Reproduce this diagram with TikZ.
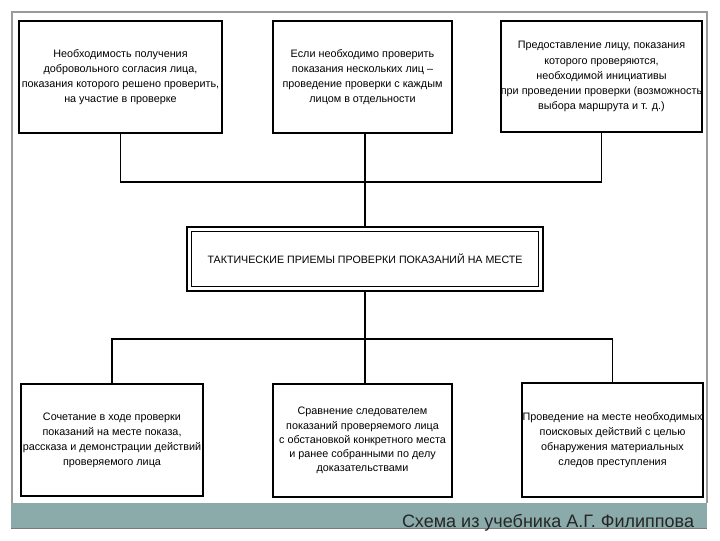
\documentclass[tikz,border=0pt]{standalone}
\usepackage{fontspec}
\setmainfont{Liberation Sans}
\definecolor{band}{HTML}{8AABAA}
\definecolor{frame}{HTML}{9A9A9A}
\begin{document}
\begin{tikzpicture}[x=0.75pt,y=-0.75pt,
  box/.style={draw, line width=1.1pt, align=center, inner sep=0pt,
    font=\fontsize{8.1}{11.3}\selectfont},
  conn/.style={line width=1.1pt}]
\useasboundingbox (0,0) rectangle (720,540);
\fill[white] (0,0) rectangle (720,540);
% frame and band
\draw[frame, line width=0.8pt] (12,503) -- (12,12) -- (707,12) -- (707,503);
\fill[band] (11,503) rectangle (707,528);
\draw[frame!80!black, line width=0.6pt] (11,528) -- (707,528);
\node[font=\fontsize{13.5}{15}\selectfont, text=black!85, anchor=center] (cap) at (548,523) {Схема из учебника А.Г. Филиппова};
% top boxes
\node[box, minimum width=152.25pt, minimum height=84pt] (tl) at (120.5,77)
 {Необходимость получения\\добровольного согласия лица,\\показания которого решено проверить,\\на участие в проверке};
\node[box, minimum width=134.25pt, minimum height=84pt] (tm) at (362.5,77)
 {Если необходимо проверить\\показания нескольких лиц --\\проведение проверки с каждым\\лицом в отдельности};
\node[box, minimum width=150.75pt, minimum height=83.25pt] (tr) at (601.5,76.5)
 {Предоставление лицу, показания\\которого проверяются,\\необходимой инициативы\\при проведении проверки (возможность\\выбора маршрута и т. д.)};
% central box
\node[draw, line width=1.6pt, minimum width=267pt, minimum height=48pt, inner sep=0pt,
  font=\fontsize{8.0}{10}\selectfont] (main) at (365,259)
 {ТАКТИЧЕСКИЕ ПРИЕМЫ ПРОВЕРКИ ПОКАЗАНИЙ НА МЕСТЕ};
\draw[line width=0.7pt] ([shift={(4.5pt,-4.5pt)}]main.north west) rectangle ([shift={(-4.5pt,4.5pt)}]main.south east);
% bottom boxes
\node[box, minimum width=136.5pt, minimum height=84pt] (bl) at (112,440)
 {Сочетание в ходе проверки\\показаний на месте показа,\\рассказа и демонстрации действий\\проверяемого лица};
\node[box, minimum width=134.25pt, minimum height=84.75pt, font=\fontsize{8.1}{10.6}\selectfont] (bm) at (362.5,440.5)
 {Сравнение следователем\\показаний проверяемого лица\\с обстановкой конкретного места\\и ранее собранными по делу\\доказательствами};
\node[box, minimum width=135.75pt, minimum height=85.5pt] (br) at (612.5,440)
 {Проведение на месте необходимых\\поисковых действий с целью\\обнаружения материальных\\следов преступления};
% connectors
\coordinate (hubT) at (365,182);
\coordinate (hubB) at (365,339);
\draw[conn] (tl.south) |- (hubT) -| (tr.south);
\draw[conn] (main.north) -- (main.north |- tm.south);
\draw[conn] (bl.north) |- (hubB) -| (br.north);
\draw[conn] (main.south) -- (main.south |- bm.north);
\end{tikzpicture}
\end{document}
